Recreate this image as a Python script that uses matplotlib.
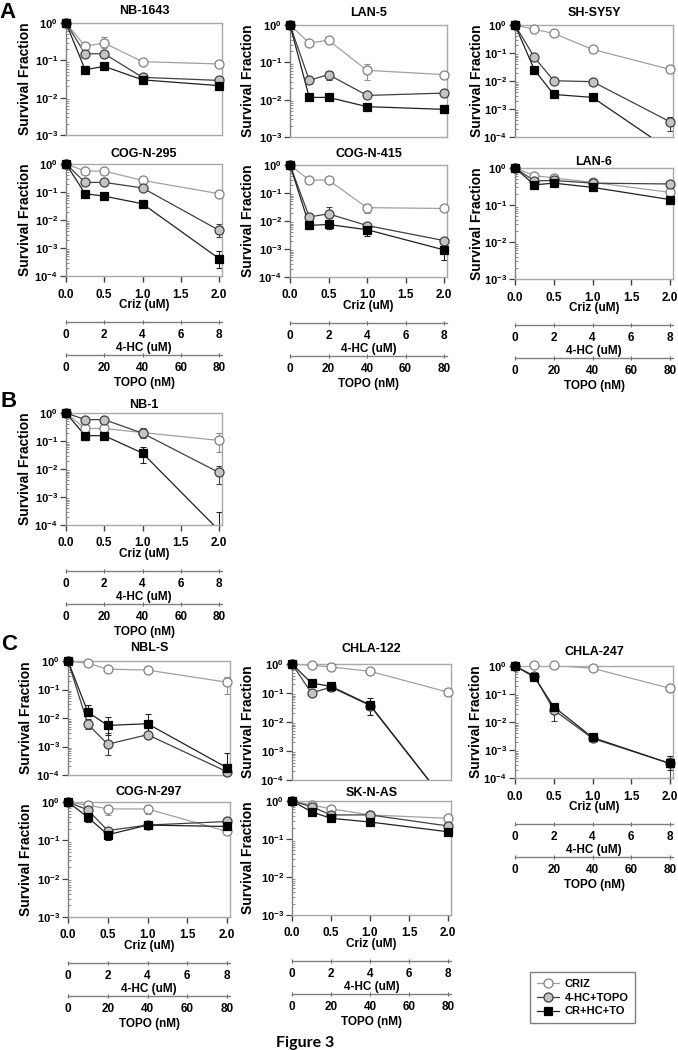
import matplotlib.pyplot as plt
from matplotlib.lines import Line2D
from matplotlib.ticker import LogLocator, NullFormatter, FixedLocator

plt.rcParams['font.family'] = ['Liberation Sans', 'DejaVu Sans']
plt.rcParams['font.weight'] = 'bold'
plt.rcParams['mathtext.fontset'] = 'custom'
plt.rcParams['mathtext.rm'] = 'Liberation Sans:bold'
plt.rcParams['mathtext.it'] = 'Liberation Sans:bold'
plt.rcParams['mathtext.bf'] = 'Liberation Sans:bold'
plt.rcParams['mathtext.default'] = 'rm'

# ---- data -------------------------------------------------------------
criz = [0.0, 0.25, 0.5, 1.0, 2.0]
criz_ticks = [0.0, 0.5, 1.0, 1.5, 2.0]
hc_ticks = [0, 2, 4, 6, 8]
topo_ticks = [0, 20, 40, 60, 80]
series_labels = ["CRIZ", "4-HC+TOPO", "CR+HC+TO"]

# each panel: [CRIZ, 4-HC+TOPO, CR+HC+TO]
nb1643 = [[1, 0.24, 0.29, 0.092, 0.080],
          [1, 0.15, 0.15, 0.035, 0.029],
          [1, 0.056, 0.069, 0.030, 0.021]]
lan5 = [[1, 0.33, 0.39, 0.061, 0.047],
        [1, 0.033, 0.047, 0.013, 0.015],
        [1, 0.0115, 0.0115, 0.0065, 0.0055]]
shsy5y = [[1, 0.70, 0.50, 0.135, 0.026],
          [1, 0.070, 0.0102, 0.0095, 0.00035],
          [1, 0.025, 0.0033, 0.0026, 0.000034]]
cogn295 = [[1, 0.56, 0.56, 0.26, 0.087],
           [1, 0.22, 0.22, 0.14, 0.0043],
           [1, 0.087, 0.071, 0.038, 0.00042]]
cogn415 = [[1, 0.29, 0.29, 0.030, 0.028],
           [1, 0.014, 0.018, 0.0069, 0.0020],
           [1, 0.0070, 0.0075, 0.0049, 0.00093]]
lan6 = [[1, 0.62, 0.54, 0.41, 0.22],
        [1, 0.45, 0.46, 0.39, 0.37],
        [1, 0.35, 0.39, 0.30, 0.14]]
nb1 = [[1, 0.28, 0.28, 0.20, 0.105],
       [1, 0.58, 0.58, 0.19, 0.0075],
       [1, 0.155, 0.155, 0.037, 0.000064]]
nbls = [[1, 0.83, 0.52, 0.48, 0.18],
        [1, 0.0060, 0.0012, 0.0026, 0.00013],
        [1, 0.016, 0.0055, 0.0063, 0.00018]]
chla122 = [[1, 0.90, 0.79, 0.56, 0.107],
           [1, 0.10, 0.16, 0.037, 0.000014],
           [1, 0.22, 0.17, 0.039, 0.000014]]
chla247 = [[1, 1.05, 1.05, 0.83, 0.16],
           [1, 0.44, 0.027, 0.0026, 0.00033],
           [1, 0.40, 0.035, 0.0028, 0.00033]]
cogn297 = [[1, 0.83, 0.66, 0.66, 0.17],
           [1, 0.62, 0.18, 0.25, 0.31],
           [1, 0.40, 0.14, 0.25, 0.23]]
sknas = [[1, 0.79, 0.62, 0.43, 0.35],
         [1, 0.71, 0.43, 0.43, 0.22],
         [1, 0.52, 0.35, 0.28, 0.155]]

# error bars: (series, point, low, high)
nb1643_err = [(0, 2, 0.22, 0.42)]
lan5_err = [(0, 3, 0.034, 0.088), (1, 2, 0.033, 0.06), (2, 4, 0.0045, 0.0065)]
shsy5y_err = [(1, 4, 0.00016, 0.00053)]
cogn295_err = [(1, 4, 0.0025, 0.0072), (2, 4, 0.0002, 0.00075)]
cogn415_err = [(0, 3, 0.02, 0.04), (1, 1, 0.01, 0.02), (1, 2, 0.01, 0.032),
               (2, 1, 0.005, 0.01), (2, 2, 0.005, 0.011), (2, 3, 0.003, 0.007),
               (2, 4, 0.0004, 0.0015)]
lan6_err = []
nb1_err = [(0, 4, 0.04, 0.19), (1, 3, 0.13, 0.28), (1, 4, 0.003, 0.013),
           (2, 1, 0.11, 0.2), (2, 3, 0.016, 0.06), (2, 4, 0.000001, 0.0003)]
nbls_err = [(0, 4, 0.07, 0.28), (1, 1, 0.004, 0.009), (1, 2, 0.0005, 0.003),
            (2, 1, 0.012, 0.028), (2, 2, 0.0025, 0.011), (2, 3, 0.003, 0.014),
            (2, 4, 0.0001, 0.0006)]
chla122_err = [(2, 2, 0.12, 0.2), (2, 3, 0.017, 0.065)]
chla247_err = [(1, 2, 0.011, 0.04), (1, 4, 0.0001, 0.0005), (2, 4, 0.0002, 0.0006)]
cogn297_err = [(0, 2, 0.45, 0.8), (0, 3, 0.5, 0.8), (2, 1, 0.3, 0.5), (2, 2, 0.1, 0.18)]
sknas_err = []

# ---- layout (pixels) --------------------------------------------------
W, H = 678, 1050
fig = plt.figure(figsize=(W / 100, H / 100), dpi=100)


def fx(x):
    return x / W


def fy(y):
    return 1 - y / H


styles = [
    dict(color='#a0a0a0', lw=0.9, marker='o', ms=6.5, mfc='white', mec='#808080', mew=0.9),
    dict(color='#404040', lw=0.9, marker='o', ms=6.5, mfc='#c4c4c4', mec='#404040', mew=0.9),
    dict(color='#202020', lw=0.9, marker='s', ms=6, mfc='black', mec='black', mew=0.9),
]

# name, data, err, x0, x2, top, bottom, lowest decade, title y, ylabel x, show x axes
panels = [
    ("NB-1643", nb1643, nb1643_err, 66, 219, 23, 135, -3, 11, 25, False),
    ("LAN-5", lan5, lan5_err, 290, 444, 25, 137, -3, 13, 248, False),
    ("SH-SY5Y", shsy5y, shsy5y_err, 515, 670, 25, 137, -4, 13, 477, False),
    ("COG-N-295", cogn295, cogn295_err, 66, 219, 164, 276, -4, 154, 25, True),
    ("COG-N-415", cogn415, cogn415_err, 290, 444, 165, 277, -4, 154, 248, True),
    ("LAN-6", lan6, lan6_err, 515, 670, 168, 279, -3, 162, 477, True),
    ("NB-1", nb1, nb1_err, 66, 219, 413, 525, -4, 405, 25, True),
    ("NBL-S", nbls, nbls_err, 68, 227, 661, 775, -4, 648, 26, False),
    ("CHLA-122", chla122, chla122_err, 292, 448, 664, 780, -4, 649, 248, False),
    ("CHLA-247", chla247, chla247_err, 515, 670, 666, 778, -4, 652, 476, True),
    ("COG-N-297", cogn297, cogn297_err, 68, 227, 802, 917, -3, 792, 26, True),
    ("SK-N-AS", sknas, sknas_err, 292, 448, 801, 915, -3, 793, 248, True),
]

XMAX = 2.04
for name, data, err, x0, x2, top, bot, lo, ty, ylx, show_x in panels:
    scale = (x2 - x0) / 2.0
    right = x0 + XMAX * scale
    ax = fig.add_axes([fx(x0), fy(bot), (right - x0) / W, (bot - top) / H])
    ax.set_yscale('log')
    ax.set_xlim(0, XMAX)
    ax.set_ylim(10.0 ** lo, 1.0)
    ymin = 10.0 ** lo

    for s, ys in enumerate(data):
        st = styles[s]
        ax.plot(criz, ys, color=st['color'], lw=st['lw'], zorder=2 + s)
        xin = [x for x, y in zip(criz, ys) if y >= ymin]
        yin = [y for y in ys if y >= ymin]
        ax.plot(xin, yin, ls='none', marker=st['marker'], ms=st['ms'], mfc=st['mfc'],
                mec=st['mec'], mew=st['mew'], zorder=5 + s, clip_on=False)
    for s, i, elo, ehi in err:
        y = data[s][i]
        ax.errorbar([criz[i]], [y], yerr=[[max(y - elo, 0)], [ehi - y]], fmt='none',
                    ecolor=styles[s]['color'] if s else '#909090', elinewidth=0.8,
                    capsize=2, capthick=0.8, zorder=1)

    for sp in ax.spines.values():
        sp.set_color('#a8a8a8')
        sp.set_linewidth(1.0)
    ax.spines['left'].set_color('#808080')

    ax.yaxis.set_major_locator(FixedLocator([10.0 ** k for k in range(lo, 1)]))
    ax.set_yticklabels([r'$10^{%d}$' % k for k in range(lo, 1)])
    ax.yaxis.set_minor_locator(LogLocator(base=10, subs=range(2, 10), numticks=20))
    ax.yaxis.set_minor_formatter(NullFormatter())
    ax.tick_params(axis='y', which='major', direction='out', length=4, width=0.9,
                   color='#404040', labelsize=8, pad=2)
    ax.tick_params(axis='y', which='minor', direction='in', length=2, width=0.5,
                   color='#606060')

    ax.set_xticks(criz_ticks)
    ax.set_xticklabels(['%.1f' % t for t in criz_ticks])
    if show_x:
        ax.tick_params(axis='x', direction='out', length=4, width=1.0, color='#404040',
                       labelsize=8.5, pad=5)
    else:
        ax.tick_params(axis='x', length=0, labelbottom=False)

    cx = (x0 + right) / 2
    fig.text(fx(cx), fy(ty), name, ha='center', va='center', fontsize=9, fontweight='bold')
    fig.text(fx(ylx), fy((top + bot) / 2), "Survival Fraction", rotation=90,
             ha='center', va='center', fontsize=10, fontweight='bold')

    if show_x:
        fig.text(fx(cx), fy(bot + 29), "Criz (uM)", ha='center', va='center', fontsize=8.5)
        for off, ticks, lab, lab_off in [(46, hc_ticks, "4-HC (uM)", 72),
                                         (79, topo_ticks, "TOPO (nM)", 107)]:
            sec = fig.add_axes([fx(x0), fy(bot + off), (right - x0) / W, 0.0001])
            sec.patch.set_visible(False)
            for k in ['top', 'left', 'right']:
                sec.spines[k].set_visible(False)
            sec.spines['bottom'].set_color('#808080')
            sec.spines['bottom'].set_linewidth(1.0)
            sec.set_xlim(0, ticks[-1] * XMAX / 2.0)
            sec.set_yticks([])
            sec.set_xticks(ticks)
            sec.set_xticklabels([str(t) for t in ticks])
            sec.tick_params(axis='x', direction='inout', length=3, width=0.8,
                            color='#606060', labelsize=8.5, pad=3.5)
            fig.text(fx(cx), fy(bot + lab_off), lab, ha='center', va='center', fontsize=8.5)

# panel letters
for letter, (lx, ly) in zip("ABC", [(8, 12), (9, 401), (9, 645)]):
    fig.text(fx(lx), fy(ly), letter, ha='center', va='center', fontsize=16, fontweight='bold')

handles = [Line2D([], [], color=st['color'], lw=st['lw'], marker=st['marker'], ms=st['ms'],
                  mfc=st['mfc'], mec=st['mec'], mew=st['mew']) for st in styles]
leg = fig.legend(handles=handles, labels=series_labels, loc='upper left',
                 bbox_to_anchor=(fx(530), fy(972)), frameon=True, fancybox=False,
                 edgecolor='#606060', fontsize=8, handlelength=2.0, borderpad=0.6,
                 labelspacing=0.35, handletextpad=0.5, borderaxespad=0)
leg.get_frame().set_linewidth(1.0)

fig.text(fx(305), fy(1043), "Figure 3", ha='center', va='center', fontsize=11.5,
         fontweight='bold', family=['Lato', 'DejaVu Sans'])

fig.savefig("out.png", dpi=100)
